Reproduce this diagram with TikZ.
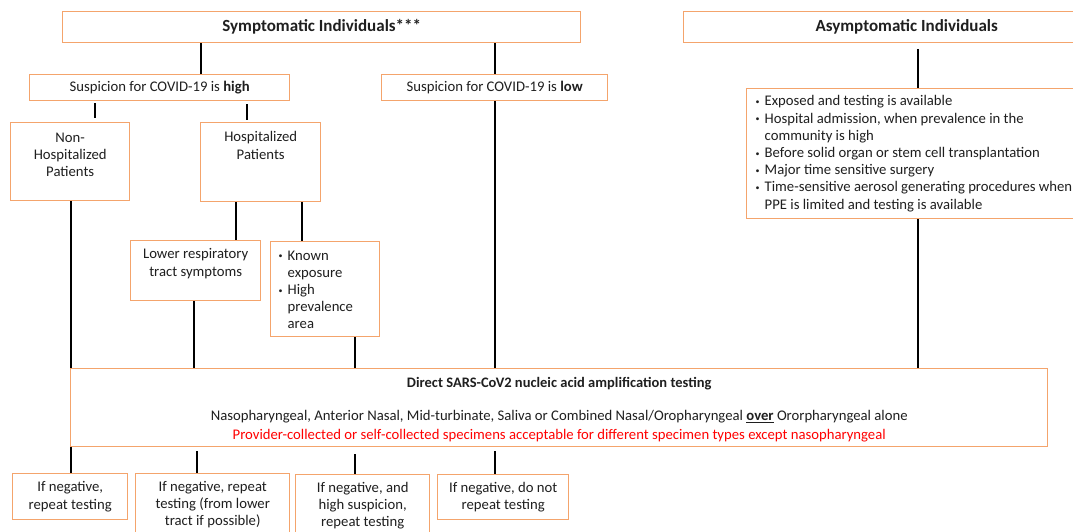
\documentclass[tikz,border=0pt]{standalone}
\usepackage{fontspec}
\setmainfont{Carlito}
\definecolor{obox}{HTML}{F4A46C}
\definecolor{rtxt}{HTML}{FF0000}
\definecolor{ink}{HTML}{1F1F1F}
\newcommand\fs{\fontsize{14.7}{17.2}\selectfont}
\newcommand\bul[1]{\hangindent=9pt\hangafter=1\noindent\makebox[9pt][l]{\raisebox{1.5pt}{\footnotesize\textbullet}}#1\par}
\tikzset{
  box/.style={draw=obox, line width=1.4pt, inner sep=0pt, anchor=north west, text=ink, font=\fs},
  conn/.style={draw=black, line width=1.9pt},
}
\begin{document}
\begin{tikzpicture}[x=1pt,y=-1pt]
\useasboundingbox (0,0) rectangle (1073,531);
\clip (0,0) rectangle (1073,531);
\fill[white] (0,0) rectangle (1073,531);
% nodes
\node[box] (sym) at (62,11) {\parbox[c][31pt][c]{518pt}{\centering\fontsize{17}{19}\selectfont\bfseries Symptomatic Individuals***}};
\node[box] (asym) at (683,11) {\parbox[c][31pt][c]{446pt}{\centering\fontsize{17}{19}\selectfont\bfseries Asymptomatic Individuals}};
\node[box] (high) at (29,74) {\parbox[c][26pt][c]{260pt}{\centering Suspicion for COVID-19 is \textbf{high}}};
\node[box] (low) at (381,74) {\parbox[c][26pt][c]{226pt}{\centering Suspicion for COVID-19 is \textbf{low}}};
\node[box] (nonhosp) at (10,122) {\parbox[c][78pt][t]{119pt}{\centering\vspace*{10pt}Non-\\Hospitalized\\Patients}};
\node[box] (hosp) at (200,122) {\parbox[c][79pt][t]{120pt}{\centering\vspace*{9pt}Hospitalized\\Patients}};
\node[box] (lower) at (130,240) {\parbox[c][60pt][t]{130pt}{\centering\vspace*{8pt}Lower respiratory\\tract symptoms}};
\node[box] (known) at (270,241) {\parbox[c][95pt][t]{109pt}{\vspace*{9pt}\raggedright\leftskip=8pt
\bul{Known\newline exposure}\bul{High\newline prevalence\newline area}}};
\node[box] (ablt) at (746,88) {\parbox[c][130pt][t]{400pt}{\vspace*{7pt}\raggedright\leftskip=9pt
\bul{Exposed and testing is available}
\bul{Hospital admission, when prevalence in the\newline community is high}
\bul{Before solid organ or stem cell transplantation}
\bul{Major time sensitive surgery}
\bul{Time-sensitive aerosol generating procedures when\newline PPE is limited and testing is available}}};
\node[box] (direct) at (70,368) {\parbox[c][78pt][c]{977pt}{\centering\vspace*{4pt}
{\fontsize{14.5}{17}\selectfont\bfseries Direct SARS-CoV2 nucleic acid amplification testing}\\[16pt]
Nasopharyngeal, Anterior Nasal, Mid-turbinate, Saliva or Combined Nasal/Oropharyngeal \underline{\textbf{over}} Ororpharyngeal alone\\[2pt]
{\color{rtxt}Provider-collected or self-collected specimens acceptable for different specimen types except nasopharyngeal}}};
\node[box] (b1) at (12,473) {\parbox[c][46pt][c]{115pt}{\centering If negative,\\repeat testing}};
\node[box] (b2) at (135,473) {\parbox[c][62pt][c]{154pt}{\centering If negative, repeat\\testing (from lower\\tract if possible)}};
\node[box] (b3) at (295,474) {\parbox[c][62pt][c]{134pt}{\centering If negative, and\\high suspicion,\\repeat testing}};
\node[box] (b4) at (437,474) {\parbox[c][45pt][c]{131pt}{\centering If negative, do not\\repeat testing}};
% connector x positions
\coordinate (xa) at (201,0);
\coordinate (xb) at (495,0);
\coordinate (xc) at (95,0);
\coordinate (xd) at (247,0);
\coordinate (xe) at (71,0);
\coordinate (xf) at (236,0);
\coordinate (xg) at (302,0);
\coordinate (xh) at (194,0);
\coordinate (xi) at (355,0);
\coordinate (xj) at (918,0);
\coordinate (xk) at (197,0);
% connectors
\draw[conn] (sym.south -| xa) -- (high.north -| xa);
\draw[conn] (sym.south -| xb) -- (low.north -| xb);
\draw[conn, shorten <=2pt, shorten >=4pt] (high.south -| xc) -- (nonhosp.north -| xc);
\draw[conn, shorten <=3pt, shorten >=2pt] (high.south -| xd) -- (hosp.north -| xd);
\draw[conn] (low.south -| xb) -- (direct.north -| xb);
\draw[conn] (nonhosp.south -| xe) -- (direct.north -| xe);
\draw[conn] (hosp.south -| xf) -- (lower.north -| xf);
\draw[conn] (hosp.south -| xg) -- (known.north -| xg);
\draw[conn] (lower.south -| xh) -- (direct.north -| xh);
\draw[conn] (known.south -| xi) -- (direct.north -| xi);
\draw[conn, shorten <=6pt] (asym.south -| xj) -- (ablt.north -| xj);
\draw[conn] (ablt.south -| xj) -- (direct.north -| xj);
\draw[conn] (direct.south -| xe) -- (b1.north -| xe);
\draw[conn, shorten <=4pt] (direct.south -| xk) -- (b2.north -| xk);
\draw[conn, shorten <=7pt] (direct.south -| xi) -- (b3.north -| xi);
\draw[conn, shorten <=4pt] (direct.south -| xb) -- (b4.north -| xb);
\end{tikzpicture}
\end{document}
